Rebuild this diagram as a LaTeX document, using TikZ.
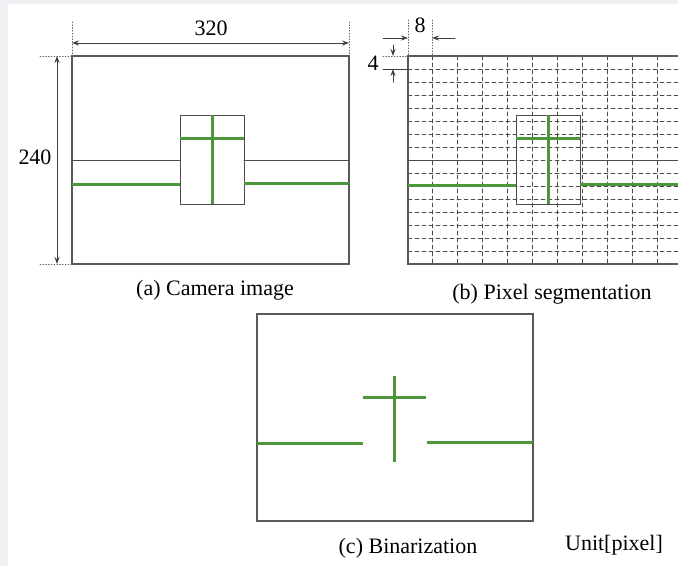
\documentclass[tikz,border=0pt]{standalone}
\usepackage{fontspec}
\setmainfont{Liberation Serif}
\usetikzlibrary{arrows.meta}
\definecolor{linegreen}{RGB}{76,150,60}
\definecolor{framegray}{RGB}{238,240,243}

\begin{document}
\begin{tikzpicture}[x=1pt,y=-1pt,>={Stealth[length=7pt,width=5pt]},font=\fontsize{22}{26}\selectfont,line cap=round,
  frame/.style={draw=black!65,line width=1.6pt},
  boxline/.style={draw=black!70,line width=1pt},
  greenline/.style={linegreen,line width=3pt,line cap=butt},
  extline/.style={black!60,dotted,line width=0.8pt},
  dimline/.style={black!75,line width=1pt},
  gridline/.style={black!70,line width=0.8pt,dash pattern=on 4pt off 3pt}]
\useasboundingbox (0,0) rectangle (678,566);
\fill[framegray] (0,0) rectangle (678,566);
\fill[white] (8,4) rectangle (678,566);
% (a) camera image
\draw[frame] (72,56) rectangle (349,264);
\draw[boxline] (180,115) rectangle (244,204);
\draw[boxline] (72,160) -- (180,160) (244,160) -- (349,160);
\draw[greenline] (72,184) -- (180,184) (244,183) -- (349,183);
\draw[greenline] (180,138) -- (244,138) (212,115) -- (212,204);
\draw[extline] (72,22) -- (72,56) (349,22) -- (349,56);
\draw[dimline,<->] (72,43) -- (349,43);
\node (lbl320) at (211,28) {320};
\draw[extline] (40,56) -- (72,56) (40,264) -- (72,264);
\draw[dimline,<->] (57,56) -- (57,264);
\node (lbl240) at (35,157) {240};
\node (capA) at (215,290) {(a) Camera image};
% (b) pixel segmentation
\begin{scope}
\clip (400,0) rectangle (678,300);
\foreach \y in {1,...,15} \draw[gridline] (408,56+13*\y) -- (690,56+13*\y);
\foreach \x in {0,...,10} \draw[gridline] (432+25*\x,56) -- (432+25*\x,264);
\draw[frame] (408,56) rectangle (685,264);
\draw[boxline] (516,115) rectangle (580,204);
\draw[boxline] (408,160) -- (516,160) (580,160) -- (685,160);
\draw[greenline] (408,185) -- (516,185) (580,184) -- (685,184);
\draw[greenline] (516,138) -- (580,138) (548,115) -- (548,204);
\end{scope}
\draw[extline] (408,20) -- (408,56) (432,20) -- (432,56);
\draw[dimline,->] (383,38) -- (408,38);
\draw[dimline,->] (455,38) -- (432,38);
\node (lbl8) at (420,25) {8};
\draw[extline] (383,56) -- (408,56);
\draw[dimline] (383,69) -- (408,69);
\draw[dimline,->] (393,45) -- (393,56);
\draw[dimline,->] (393,82) -- (393,69);
\node (lbl4) at (373,63) {4};
\node (capB) at (552,294) {(b) Pixel segmentation};
% (c) binarization
\draw[frame] (257,314) rectangle (533,521);
\draw[greenline] (257,443) -- (363,443) (427,442) -- (533,442);
\draw[greenline] (363,397) -- (426,397) (394,376) -- (394,462);
\node (capC) at (408,548) {(c) Binarization};
\node (unit) at (614,545) {Unit[pixel]};
\end{tikzpicture}
\end{document}
